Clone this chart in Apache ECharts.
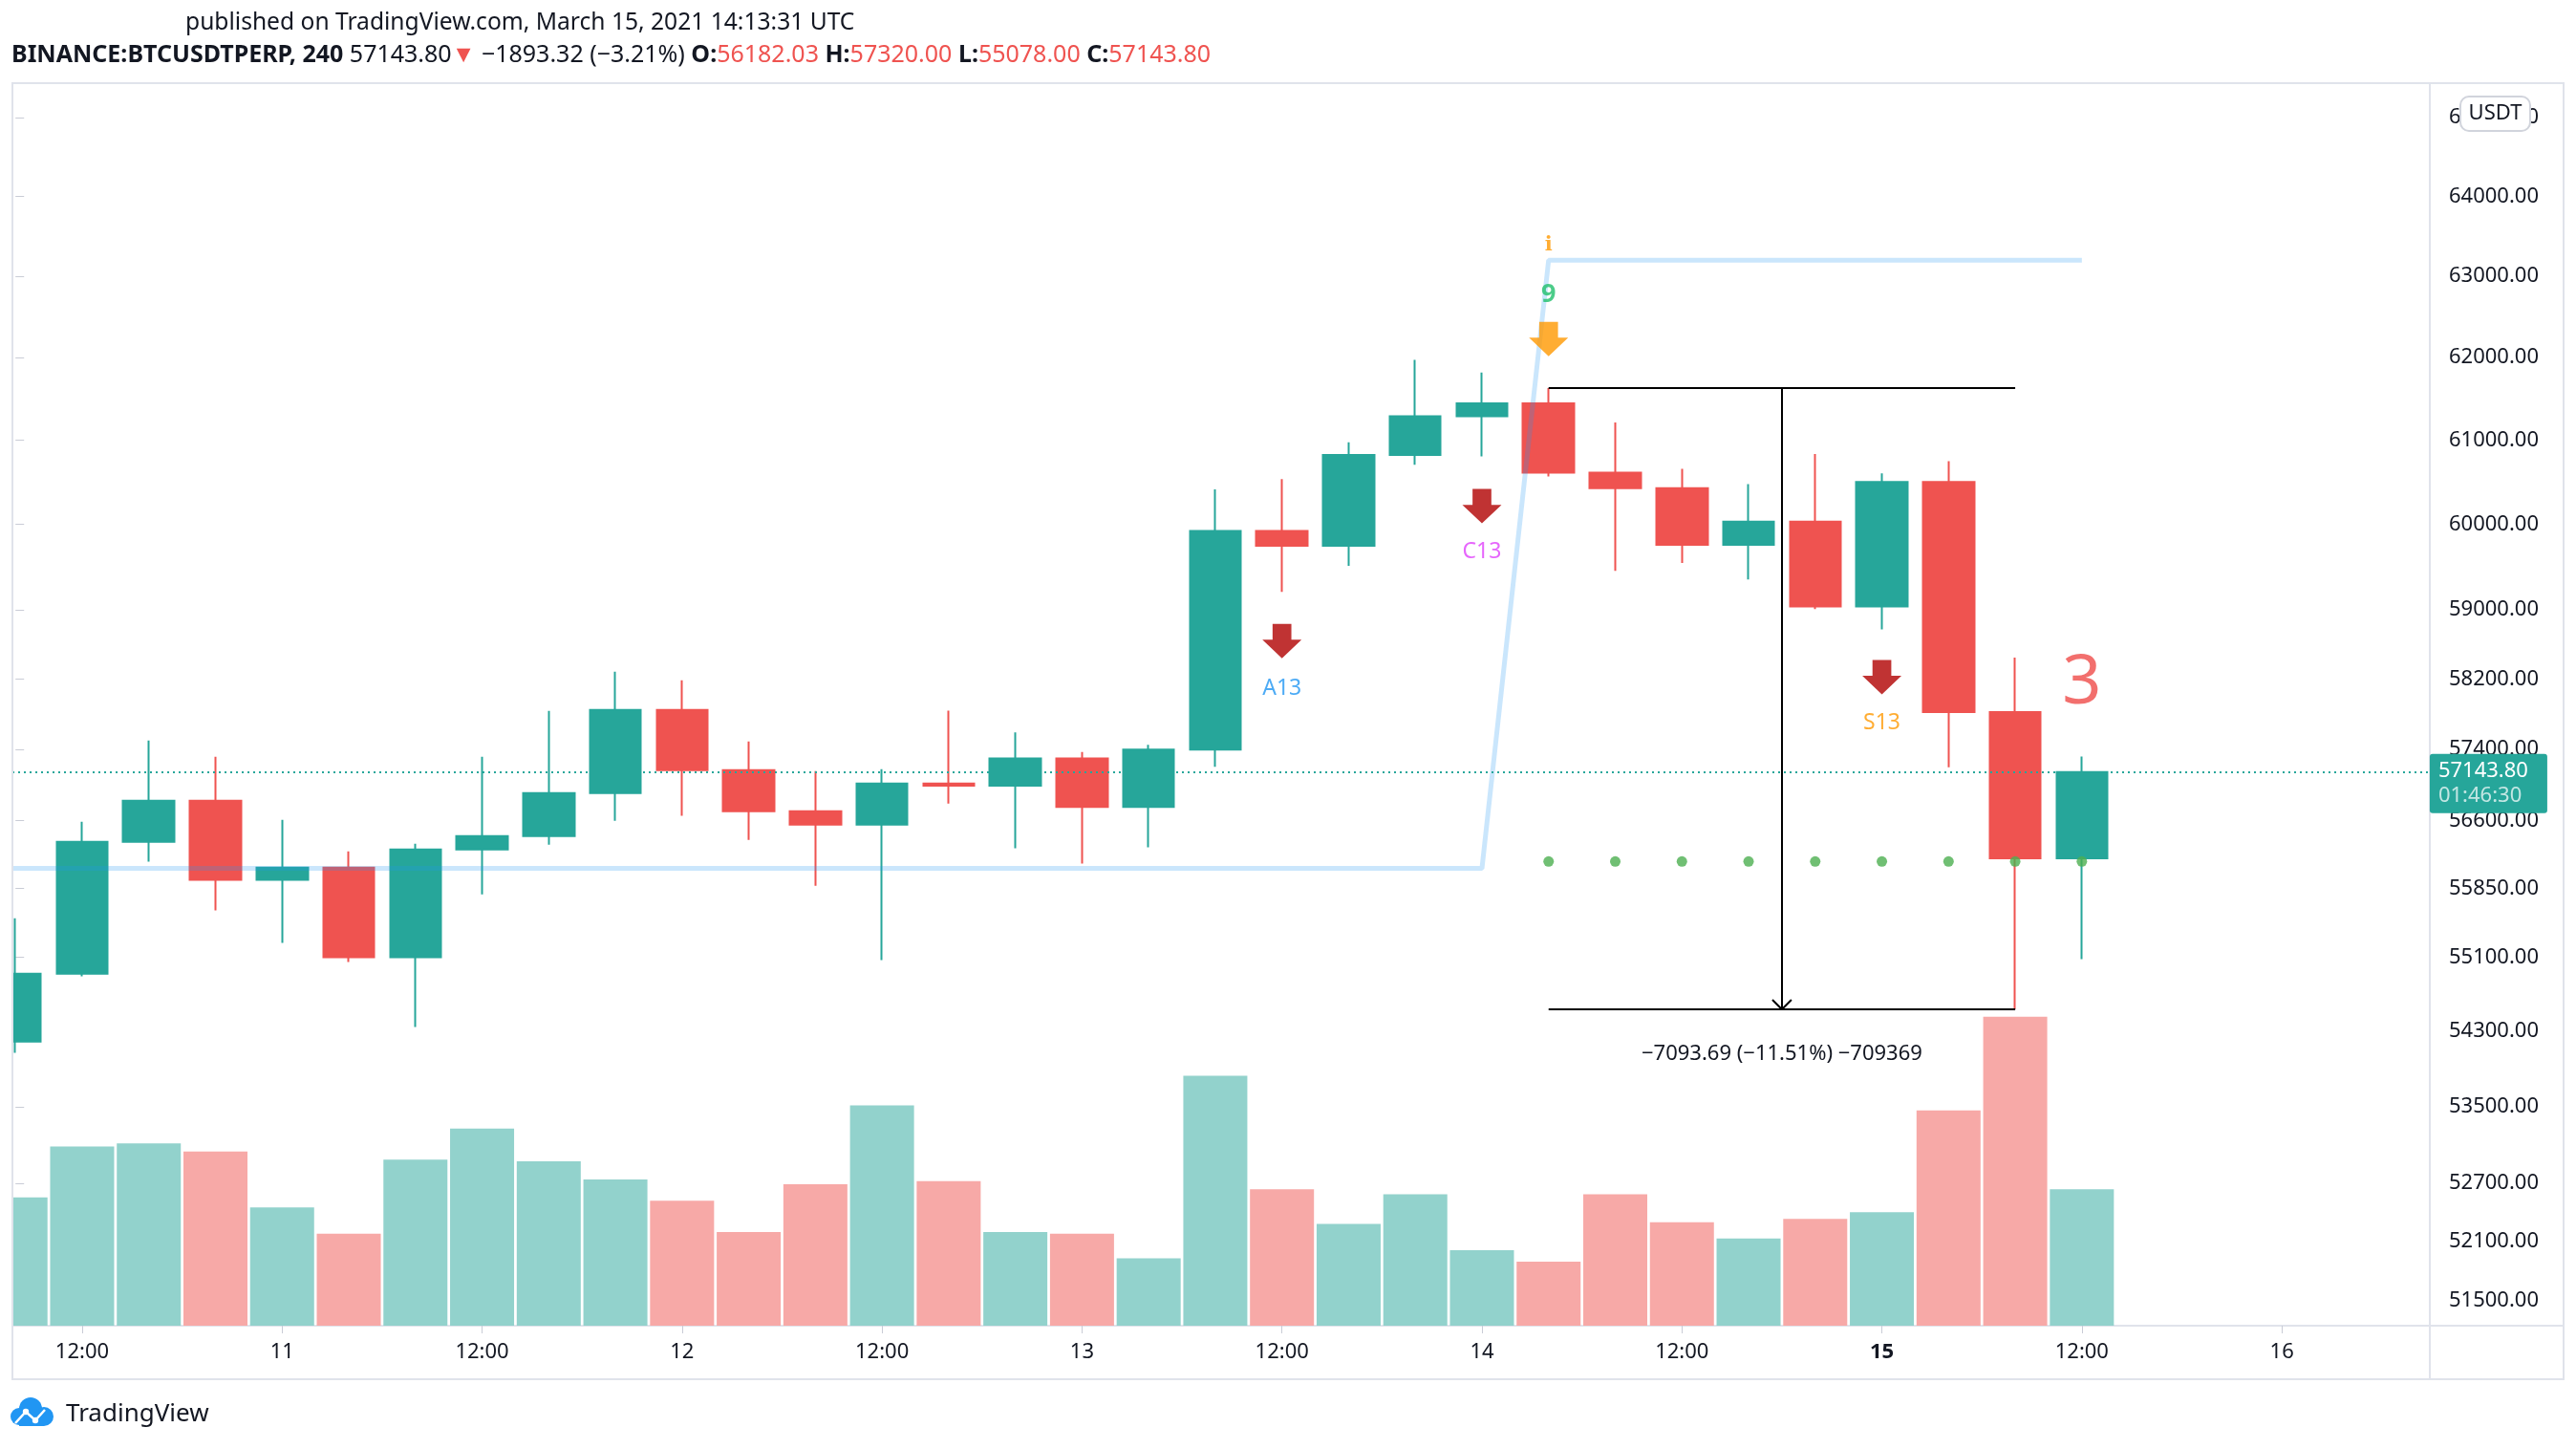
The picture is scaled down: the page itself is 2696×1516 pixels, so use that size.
<!DOCTYPE html>
<html><head><meta charset="utf-8">
<script src="https://cdn.jsdelivr.net/npm/echarts@6/dist/echarts.min.js"></script>
<style>html,body{margin:0;padding:0;background:#fff}#c{width:2696px;height:1516px}</style>
</head><body><div id="c"></div>
<script>
// ---------- DATA ----------
const times = ['03-10 08:00','03-10 12:00','03-10 16:00','03-10 20:00',
  '03-11 00:00','03-11 04:00','03-11 08:00','03-11 12:00','03-11 16:00','03-11 20:00',
  '03-12 00:00','03-12 04:00','03-12 08:00','03-12 12:00','03-12 16:00','03-12 20:00',
  '03-13 00:00','03-13 04:00','03-13 08:00','03-13 12:00','03-13 16:00','03-13 20:00',
  '03-14 00:00','03-14 04:00','03-14 08:00','03-14 12:00','03-14 16:00','03-14 20:00',
  '03-15 00:00','03-15 04:00','03-15 08:00','03-15 12:00'];
const opens  = [54191,54920,56364,56822,55945,56079,55098,56279,56428,56907,57846,57165,56705,56555,57015,56990,
                57297,56753,57397,59922,59747,60824,61288,61446,60612,60429,59759,60031,59037.12,60501,57822,56182.03];
const closes = [54920,56364,56822,55945,56079,55098,56279,56428,56907,57846,57165,56705,56555,57015,56990,57297,
                56753,57397,59922,59747,60824,61288,61446,60612,60429,59759,60031,59037.12,60501,57822,56182.03,57143.80];
const highs  = [55522,56588,57500,57316,56609,56258,56343,57316,57836,58283,58185,57489,57155,57176,57840,57592,
                57370,57450,60413,60535,60975,61972,61818,61630.69,61215,60659,60475,60836,60605,60751,58446,57320.00];
const lows   = [54072,54892,56145,55609,55255,55046,54347,55784,56332,56598,56654,56385,55879,55067,56790,56292,
                56123,56303,57203,59207,59512,60707,60808,60568,59452,59546,59352,59006,58770,57199,54537.00,55078.00];
const volumes = [78,109,111,106,72,56,101,120,100,89,76,57,86,134,88,57,
                 56,41,152,83,62,80,46,39,80,63,53,65,69,131,188,83];

const xTickIdx    = [1,4,7,10,13,16,19,22,25,28,31,34];
const xTickLabels = ['12:00','11','12:00','12','12:00','13','12:00','14','12:00','15','12:00','16'];
const priceTicks  = [65000,64000,63000,62000,61000,60000,59000,58200,57400,56600,55850,55100,54300,53500,52700,52100,51500];

// TD sequential overlay
const tdLineIdx   = [-0.1,22,23,31];
const tdLinePrice = [56070,56070,63200,63200];
const dotIdx   = [23,24,25,26,27,28,29,30,31];
const dotPrice = 56147;
const arrowIdx    = [19,22,28,23];
const arrowPrice  = [58637,60214,58222,62228];
const arrowColors = ['#B00000','#B00000','#B00000','#FF9800'];
const textIdx    = [19,22,28,23,23,31];
const textPrice  = [58090,59671,57700,62777,63385,58148];
const textLabels = ['A13','C13','S13','9','i','3'];

// measure tool
const measureFrom = 23, measureTo = 30, measureMid = 26.5;
const measureTop = 61630.69, measureBottom = 54537.00;
const measureText = '\u22127093.69 (\u221211.51%) \u2212709369';
const lastPrice = 57143.80, countdown = '01:46:30';

// axis ranges
const XMIN = -0.046, XMAX = 36.22;
const PMIN = 51244.6, PMAX = 65441.7;
const VMAX = 756;

// ---------- CHART ----------
const L = Math.log;
const FONT = "'Noto Sans', sans-serif";
const UP = '#26A69A', DN = '#EF5350';
const chart = echarts.init(document.getElementById('c'), null, {renderer:'canvas'});

const candleData = opens.map((o,i)=>[i, L(o), L(closes[i]), L(lows[i]), L(highs[i])]);
const volData = volumes.map((v,i)=>({value:[i,v], itemStyle:{color: closes[i]>=opens[i] ? '#92D2CC' : '#F7A9A7'}}));
const tdData = tdLineIdx.map((x,i)=>[x, L(tdLinePrice[i])]);
const dotData = dotIdx.map(x=>[x, L(dotPrice)]);
const arrowData = arrowIdx.map((x,i)=>({value:[x, L(arrowPrice[i])], itemStyle:{color:arrowColors[i]}}));
const textStyles = {
  'A13': {color:'#2196F3', fontSize:23},
  'C13': {color:'#E040FB', fontSize:23},
  'S13': {color:'#FF9800', fontSize:23},
  '9':   {color:'#1FBF6B', fontSize:27, fontWeight:'bold'},
  'i':   {color:'#FF9800', fontSize:21, fontWeight:'bold', fontFamily:"'DejaVu Serif', serif"},
  '3':   {color:'#EF4B48', fontSize:72}
};
const textData = textIdx.map((x,i)=>({value:[x, L(textPrice[i])],
  label:Object.assign({show:true, position:'inside', formatter:textLabels[i], fontFamily:FONT}, textStyles[textLabels[i]])}));

const chevH = Math.exp(10/5316), chevW = 0.143;
const blackLine = {color:'#000', width:2, type:'solid'};

const option = {
  animation:false,
  backgroundColor:'#ffffff',
  textStyle:{fontFamily:FONT},
  grid:[
    {left:13, right:153, top:87, bottom:129, show:false},
    {left:13, right:153, top:87, bottom:129, show:false}
  ],
  xAxis:[
    {type:'value', gridIndex:0, min:XMIN, max:XMAX, position:'bottom',
     axisLine:{show:false}, splitLine:{show:false},
     axisTick:{show:true, customValues:xTickIdx, length:8, lineStyle:{color:'#C9CCD6', width:1}},
     axisLabel:{customValues:xTickIdx, margin:17, color:'#131722', fontSize:22, fontFamily:FONT,
       formatter:v=>{const k=xTickIdx.indexOf(Math.round(v)); const s=xTickLabels[k]; return s==='15'?'{b|15}':s;},
       rich:{b:{fontWeight:'bold', fontSize:22, color:'#131722', fontFamily:FONT}}}},
    {type:'value', gridIndex:1, min:XMIN, max:XMAX, show:false}
  ],
  yAxis:[
    {type:'value', gridIndex:0, position:'right', min:L(PMIN), max:L(PMAX), scale:true,
     axisLine:{show:false}, splitLine:{show:false},
     axisTick:{show:true, customValues:priceTicks.map(L), length:9, lineStyle:{color:'#C9CCD6', width:1}},
     axisLabel:{customValues:priceTicks.map(L), margin:20, color:'#131722', fontSize:22, fontFamily:FONT,
       formatter:v=>Math.exp(v).toFixed(2)}},
    {type:'value', gridIndex:1, min:0, max:VMAX, show:false}
  ],
  graphic:[
    {type:'rect', z:-1, shape:{x:13,y:87,width:2670,height:1356}, style:{fill:'none', stroke:'#E0E3EB', lineWidth:2}},
    {type:'line', z:-1, shape:{x1:2543,y1:87,x2:2543,y2:1443}, style:{stroke:'#E0E3EB', lineWidth:2}},
    {type:'line', z:-1, shape:{x1:13,y1:1387,x2:2683,y2:1387}, style:{stroke:'#E0E3EB', lineWidth:2}},
    // mask left of the pane (pane clipping) + left border on top
    {type:'rect', z:100, shape:{x:0,y:80,width:12,height:1370}, style:{fill:'#ffffff'}},
    {type:'line', z:101, shape:{x1:13,y1:87,x2:13,y2:1443}, style:{stroke:'#E0E3EB', lineWidth:2}},
    {type:'text', x:194, y:24, style:{text:'published on TradingView.com, March 15, 2021 14:13:31 UTC',
       font:"24.6px 'Noto Sans', sans-serif", fill:'#131722', verticalAlign:'middle', align:'left'}},
    {type:'text', x:12, y:58, style:{
       text:'{b|BINANCE:BTCUSDTPERP, 240} {n|57143.80}{r|\u25BC} {n|\u22121893.32 (\u22123.21%)} {b|O:}{r|56182.03} {b|H:}{r|57320.00} {b|L:}{r|55078.00} {b|C:}{r|57143.80}',
       verticalAlign:'middle', align:'left', font:"25px 'Noto Sans', sans-serif",
       rich:{
         b:{fontWeight:'bold', fontSize:25, fontFamily:FONT, fill:'#131722'},
         n:{fontSize:25, fontFamily:FONT, fill:'#131722'},
         r:{fontSize:25, fontFamily:FONT, fill:'#EF5350'}
       }}},
    {type:'rect', z:100, shape:{x:2575,y:101,width:73,height:36,r:9}, style:{fill:'#ffffff', stroke:'#D1D4DC', lineWidth:2}},
    {type:'text', z:101, x:2611.5, y:119, style:{text:'USDT', font:"22px 'Noto Sans', sans-serif", fill:'#131722', align:'center', verticalAlign:'middle'}},
    {type:'group', children:[
      {type:'circle', shape:{cx:32,cy:1474,r:12}, style:{fill:'#2196F3'}},
      {type:'circle', shape:{cx:20,cy:1482,r:9}, style:{fill:'#2196F3'}},
      {type:'circle', shape:{cx:46,cy:1482,r:10}, style:{fill:'#2196F3'}},
      {type:'rect', shape:{x:20,y:1478,width:26,height:14}, style:{fill:'#2196F3'}},
      {type:'polyline', shape:{points:[[16,1489],[27,1477],[37,1486],[47,1475]]}, style:{stroke:'#fff', lineWidth:2.5, fill:'none'}},
      {type:'circle', shape:{cx:27,cy:1477,r:3.2}, style:{fill:'#fff'}},
      {type:'circle', shape:{cx:37,cy:1486,r:3.2}, style:{fill:'#fff'}},
      {type:'text', x:69, y:1480, style:{text:'TradingView', font:"26px 'Noto Sans', sans-serif", fill:'#131722', verticalAlign:'middle', align:'left'}}
    ]}
  ],
  series:[
    {type:'bar', name:'Volume', xAxisIndex:1, yAxisIndex:1, data:volData, barWidth:67, z:1, clip:true},
    {type:'candlestick', name:'BTCUSDTPERP', xAxisIndex:0, yAxisIndex:0, z:3, clip:true,
     dimensions:['x','open','close','lowest','highest'],
     encode:{x:'x', y:['open','close','lowest','highest']},
     data:candleData, barWidth:54,
     itemStyle:{color:UP, color0:DN, borderColor:UP, borderColor0:DN, borderWidth:2},
     markLine:{silent:true, symbol:['none','none'], label:{show:false},
       data:[
         [{coord:[measureFrom, L(measureTop)]},{coord:[measureTo, L(measureTop)]}],
         [{coord:[measureFrom, L(measureBottom)]},{coord:[measureTo, L(measureBottom)]}],
         [{coord:[measureMid, L(measureTop)]},{coord:[measureMid, L(measureBottom)]}],
         [{coord:[measureMid, L(measureBottom)]},{coord:[measureMid-chevW, L(measureBottom*chevH)]}],
         [{coord:[measureMid, L(measureBottom)]},{coord:[measureMid+chevW, L(measureBottom*chevH)]}],
         [{coord:[XMIN, L(lastPrice)], lineStyle:{color:UP, width:2, type:[2,4]}},{coord:[XMAX, L(lastPrice)]}]
       ].map((d,i)=>i<5?d.map(p=>Object.assign(p,{lineStyle:blackLine})):d),
       lineStyle:blackLine},
     markPoint:{silent:true, symbol:'rect', symbolSize:0,
       data:[
         {coord:[measureMid, L(measureBottom)], label:{show:true, position:'bottom', distance:36,
           formatter:measureText, color:'#131722', fontSize:22, fontFamily:FONT}},
         {coord:[XMAX-0.001, L(lastPrice)], label:{show:true, position:'right', distance:0, offset:[0,12],
           formatter:'{p|'+lastPrice.toFixed(2)+'}\n{t|'+countdown+'}',
           backgroundColor:UP, padding:[5,20,5,9], borderRadius:3,
           rich:{p:{color:'#ffffff', fontSize:22, lineHeight:26, fontFamily:FONT},
                 t:{color:'rgba(255,255,255,0.72)', fontSize:22, lineHeight:26, fontFamily:FONT}}}}
       ]}},
    {type:'line', name:'TD line', xAxisIndex:0, yAxisIndex:0, z:4, data:tdData, showSymbol:false, symbol:'none',
     lineStyle:{color:'rgba(33,150,243,0.24)', width:5}, clip:true},
    {type:'scatter', name:'TD dots', xAxisIndex:0, yAxisIndex:0, z:5, data:dotData, symbolSize:11, itemStyle:{color:'#4CAF50'}},
    {type:'scatter', name:'TD arrows', xAxisIndex:0, yAxisIndex:0, z:5, data:arrowData, symbolSize:[41,36],
     symbol:'path://M2.6,0 L7.4,0 L7.4,4.6 L10,4.6 L5,10 L0,4.6 L2.6,4.6 Z'},
    {type:'scatter', name:'TD text', xAxisIndex:0, yAxisIndex:0, z:6, data:textData, symbolSize:0}
  ]
};
chart.setOption(option);
</script></body></html>
